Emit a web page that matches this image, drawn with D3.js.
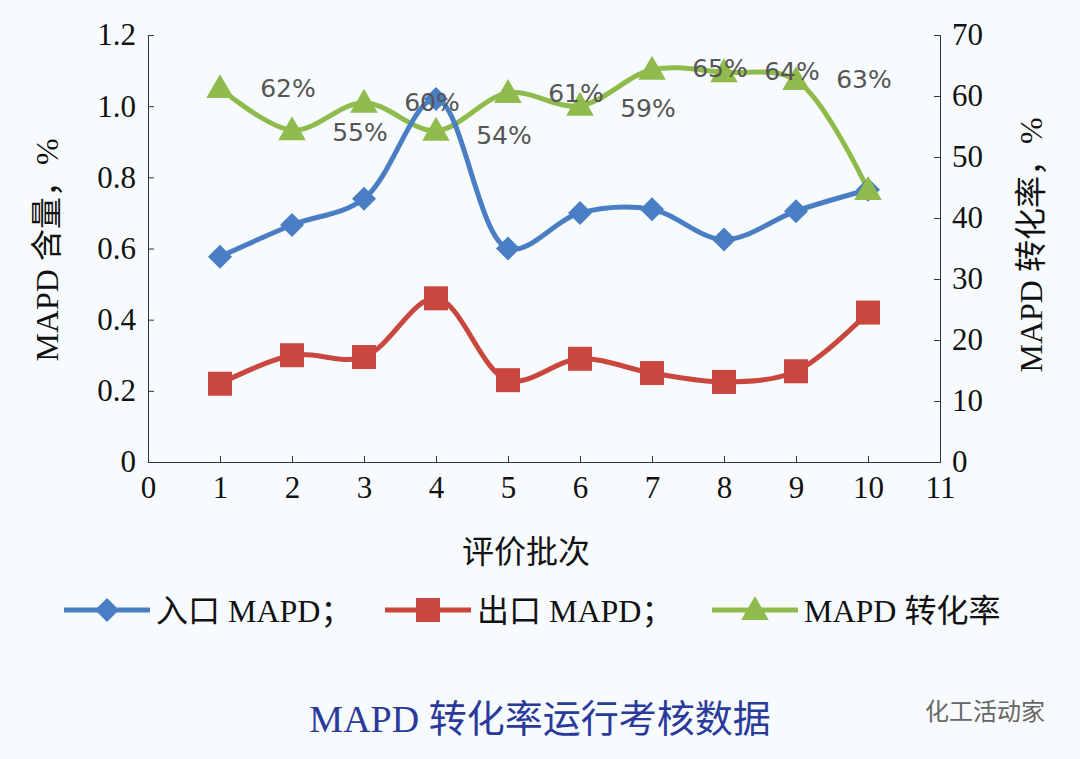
<!DOCTYPE html>
<html lang="en">
<head>
  <meta charset="UTF-8">
  <title>MAPD</title>
  <script src="https://d3js.org/d3.v7.min.js"></script>
  <style>
    html, body { margin: 0; padding: 0; background: #f8fbfd; }
    svg { display: block; }
    .tick text { font-family: "Liberation Serif", "Noto Sans CJK SC", serif; font-size: 31px; fill: #111; }
    .lbl { font-family: "Liberation Serif", "Noto Sans CJK SC", serif; fill: #111; }
  </style>
</head>
<body>
  <svg id="chart" width="1080" height="759"></svg>
  <script>
    // Data
    const batches = [1, 2, 3, 4, 5, 6, 7, 8, 9, 10];
    const inlet = [0.577, 0.666, 0.74, 1.02, 0.60, 0.70, 0.71, 0.625, 0.705, 0.765];
    const outlet = [0.22, 0.30, 0.295, 0.46, 0.23, 0.29, 0.25, 0.225, 0.255, 0.42];
    const conversion = [61.3, 54.4, 58.9, 54.3, 60.5, 58.4, 64.3, 63.9, 62.6, 44.6];
    const convLabels = ["62%", "55%", "60%", "54%", "61%", "59%", "65%", "64%", "63%"];
    const convLabelX = [2, 3, 4, 5, 6, 7, 8, 9, 10];
    const convLabelY = [61.5, 54.3, 59.2, 53.8, 60.7, 58.2, 64.8, 64.3, 62.9];
    const xTicks = d3.range(0, 12);
    const leftTicks = [0, 0.2, 0.4, 0.6, 0.8, 1.0, 1.2];
    const rightTicks = [0, 10, 20, 30, 40, 50, 60, 70];

    const svg = d3.select("#chart");
    const x = d3.scaleLinear().domain([0, 11]).range([148, 940]);
    const yL = d3.scaleLinear().domain([0, 1.2]).range([462, 35]);
    const yR = d3.scaleLinear().domain([0, 70]).range([462, 35]);

    // Axes
    svg.append("g").attr("transform", "translate(0,462)")
      .call(d3.axisBottom(x).tickValues(xTicks).tickSize(-6).tickPadding(14).tickFormat(d3.format("d")))
      .call(g => g.select(".domain").attr("stroke", "#333"))
      .call(g => g.selectAll("line").attr("stroke", "#333"));
    svg.append("g").attr("transform", "translate(148,0)")
      .call(d3.axisLeft(yL).tickValues(leftTicks).tickSize(-6).tickPadding(12)
        .tickFormat(d => d === 0 ? "0" : d3.format(".1f")(d)))
      .call(g => g.select(".domain").attr("stroke", "#333"))
      .call(g => g.selectAll("line").attr("stroke", "#333"));
    svg.append("g").attr("transform", "translate(940,0)")
      .call(d3.axisRight(yR).tickValues(rightTicks).tickSize(-6).tickPadding(12))
      .call(g => g.select(".domain").attr("stroke", "#333"))
      .call(g => g.selectAll("line").attr("stroke", "#333"));

    // Axis titles
    svg.append("text").attr("class", "lbl").attr("font-size", 32)
      .attr("transform", "translate(58,250) rotate(-90)").attr("text-anchor", "middle")
      .text("MAPD 含量，%");
    svg.append("text").attr("class", "lbl").attr("font-size", 32)
      .attr("transform", "translate(1042,245) rotate(-90)").attr("text-anchor", "middle")
      .text("MAPD 转化率，%");
    svg.append("text").attr("class", "lbl").attr("font-size", 32)
      .attr("x", 526).attr("y", 563).attr("text-anchor", "middle").text("评价批次");

    const line = (yS, vals) => d3.line().curve(d3.curveCatmullRom.alpha(0.5))
      .x((d, i) => x(batches[i])).y(d => yS(d))(vals);

    const blue = "#4a7ec4", red = "#c9473f", green = "#8fbb4c";

    svg.append("path").attr("d", line(yR, conversion)).attr("fill", "none").attr("stroke", green).attr("stroke-width", 5);
    svg.append("path").attr("d", line(yL, inlet)).attr("fill", "none").attr("stroke", blue).attr("stroke-width", 5);
    svg.append("path").attr("d", line(yL, outlet)).attr("fill", "none").attr("stroke", red).attr("stroke-width", 5);

    const diamond = "M0,-12L12,0L0,12L-12,0Z";
    const tri = d3.symbol().type(d3.symbolTriangle).size(330);

    svg.selectAll(".bm").data(inlet).enter().append("path")
      .attr("transform", (d, i) => `translate(${x(batches[i])},${yL(d)})`)
      .attr("d", diamond).attr("fill", blue);
    svg.selectAll(".rm").data(outlet).enter().append("rect")
      .attr("x", (d, i) => x(batches[i]) - 12).attr("y", d => yL(d) - 12)
      .attr("width", 24).attr("height", 24).attr("fill", red);
    svg.selectAll(".gm").data(conversion).enter().append("path")
      .attr("transform", (d, i) => `translate(${x(batches[i])},${yR(d) + 2})`)
      .attr("d", tri).attr("fill", green);

    svg.selectAll(".cl").data(convLabels).enter().append("text")
      .attr("x", (d, i) => x(convLabelX[i]) - 4).attr("y", (d, i) => yR(convLabelY[i]) + 10)
      .attr("text-anchor", "middle").attr("font-family", "DejaVu Sans, sans-serif")
      .attr("font-size", 25).attr("fill", "#555").text(d => d);

    // Legend
    const legend = [
      { c: blue, t: "入口 MAPD；", x: 64, m: "d" },
      { c: red, t: "出口 MAPD；", x: 385, m: "s" },
      { c: green, t: "MAPD 转化率", x: 712, m: "t" }
    ];
    legend.forEach(l => {
      const g = svg.append("g");
      g.append("line").attr("x1", l.x).attr("x2", l.x + 86).attr("y1", 610).attr("y2", 610)
        .attr("stroke", l.c).attr("stroke-width", 5);
      const cx = l.x + 43;
      if (l.m === "d") g.append("path").attr("transform", `translate(${cx},610)`).attr("d", diamond).attr("fill", l.c);
      if (l.m === "s") g.append("rect").attr("x", cx - 12).attr("y", 598).attr("width", 24).attr("height", 24).attr("fill", l.c);
      if (l.m === "t") g.append("path").attr("transform", `translate(${cx},612)`).attr("d", tri).attr("fill", l.c);
      g.append("text").attr("class", "lbl").attr("font-size", 32).attr("x", l.x + 92).attr("y", 622).text(l.t);
    });

    // Title
    svg.append("text").attr("class", "lbl").attr("font-size", 38)
      .style("fill", "#2a3a9a").attr("x", 540).attr("y", 732).attr("text-anchor", "middle")
      .text("MAPD 转化率运行考核数据");
    svg.append("text").attr("font-family", "Noto Sans CJK SC, sans-serif").attr("font-size", 24)
      .attr("fill", "#666").attr("x", 1045).attr("y", 720).attr("text-anchor", "end").text("化工活动家");
  </script>
</body>
</html>
